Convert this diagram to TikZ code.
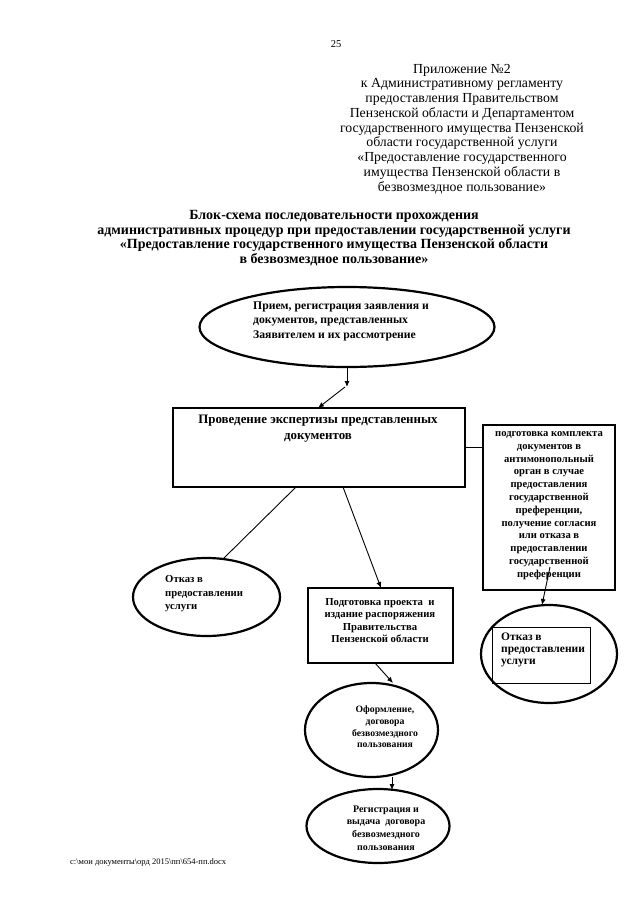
\documentclass[tikz,border=0pt]{standalone}
\usepackage{fontspec}
\setmainfont{Liberation Serif}
\usetikzlibrary{shapes.geometric,arrows.meta}
\begin{document}
\begin{tikzpicture}[x=1pt,y=-1pt,
  thickbox/.style={draw,line width=2.2pt,rectangle,inner sep=0pt},
  thickell/.style={draw,line width=2.2pt,ellipse,inner sep=0pt},
  txt/.style={inner sep=0pt,font=\bfseries\fontsize{10}{12.5}\selectfont},
  conn/.style={line width=0.9pt},
  arr/.style={line width=0.9pt,-{Latex[length=6pt,width=5pt]}}]
\useasboundingbox (0,0) rectangle (640,905);
\fill[white] (0,0) rectangle (640,905);
% header
\node[inner sep=0pt,font=\fontsize{10.5}{12}\selectfont] (pg) at (336,44) {25};
\node[inner sep=0pt,align=center,font=\fontsize{13.8}{14.75}\selectfont] (hdr) at (462,129)
 {Приложение №2\\к Административному регламенту\\предоставления Правительством\\Пензенской области и Департаментом\\государственного имущества Пензенской\\области государственной услуги\\«Предоставление государственного\\имущества Пензенской области в\\безвозмездное пользование»};
\node[inner sep=0pt,align=center,font=\bfseries\fontsize{14}{14.7}\selectfont] (ttl) at (334,238)
 {Блок-схема последовательности прохождения\\административных процедур при предоставлении государственной услуги\\«Предоставление государственного имущества Пензенской области\\в безвозмездное пользование»};
% ellipse 1
\node[thickell,minimum width=295pt,minimum height=80pt] (e1) at (347,327) {};
\node[txt,anchor=west,align=left,font=\bfseries\fontsize{11.7}{14.5}\selectfont] (e1t) at (253,321)
 {Прием, регистрация заявления и\\документов, представленных\\Заявителем и их рассмотрение};
\coordinate (bend) at (347,387);
% box 2
\node[thickbox,minimum width=292pt,minimum height=79pt] (b2) at (319,447.5) {};
\node[txt,align=center,font=\bfseries\fontsize{12.9}{16}\selectfont] (b2t) at (318,429)
 {Проведение экспертизы представленных\\документов};
% right box
\node[thickbox,minimum width=132pt,minimum height=165pt] (rb) at (549,507.5) {};
\node[txt,align=center,font=\bfseries\fontsize{10.6}{12.8}\selectfont] (rbt) at (549,505.5)
 {подготовка комплекта\\документов в\\антимонопольный\\орган в случае\\предоставления\\государственной\\преференции,\\получение согласия\\или отказа в\\предоставлении\\государственной\\преференции};
% left refusal ellipse
\node[thickell,minimum width=147pt,minimum height=78pt] (e2) at (206.5,597) {};
\node[txt,anchor=west,align=left,font=\bfseries\fontsize{10.7}{13.5}\selectfont] (e2t) at (165,594)
 {Отказ в\\предоставлении\\услуги};
% box 3
\node[thickbox,minimum width=145pt,minimum height=75pt] (b3) at (380.5,625.5) {};
\node[txt,align=center,font=\bfseries\fontsize{10.7}{12.4}\selectfont] (b3t) at (380,620.5)
 {Подготовка проекта\ \ и\\издание распоряжения\\Правительства\\Пензенской области};
% right refusal circle
\node[draw,line width=2.2pt,ellipse,inner sep=0pt,minimum width=136pt,minimum height=98pt] (e3) at (549,654) {};
\node[draw,line width=0.8pt,rectangle,inner sep=0pt,minimum width=98pt,minimum height=56pt] (r3) at (541,655) {};
\node[txt,anchor=west,align=left,font=\bfseries\fontsize{11.5}{12}\selectfont] (e3t) at (501,650)
 {Отказ в\\предоставлении\\услуги};
% ellipse 4
\node[thickell,minimum width=133pt,minimum height=94pt] (e4) at (371.5,730) {};
\node[txt,align=center,font=\bfseries\fontsize{9.7}{11.7}\selectfont] (e4t) at (385,727)
 {Оформление,\\договора\\безвозмездного\\пользования};
% ellipse 5
\node[thickell,minimum width=143pt,minimum height=74pt] (e5) at (378,826) {};
\node[txt,align=center,font=\bfseries\fontsize{10}{12.8}\selectfont] (e5t) at (386,828)
 {Регистрация и\\выдача\ \ договора\\безвозмездного\\пользования};
% footer
\node[inner sep=0pt,anchor=west,font=\fontsize{8.5}{9}\selectfont] (ftr) at (70,862) {c:\textbackslash мои документы\textbackslash орд 2015\textbackslash пп\textbackslash 654-пп.docx};
% connectors
\coordinate (e1b) at (347,367);
\coordinate (b2top) at (318,408);
\draw[arr] (e1b) -- (bend);
\draw[arr] ([xshift=-2pt]bend) -- (b2top);
\coordinate (b2r) at (465,447);
\coordinate (rbl) at (483,447);
\draw[conn] (b2r) -- (rbl);
\coordinate (b2bl) at (296,487);
\coordinate (e2top) at (224,558);
\draw[conn] (b2bl) -- (e2top);
\coordinate (b2br) at (343,487);
\coordinate (b3top) at (381,588);
\draw[arr] (b2br) -- (b3top);
\coordinate (rbin) at (550,567);
\coordinate (e3top) at (542,605);
\draw[arr] (rbin) -- (e3top);
\coordinate (b3b) at (375,663);
\coordinate (e4top) at (393,683);
\draw[arr] (b3b) -- (e4top);
\coordinate (e4b) at (392,777);
\coordinate (e5top) at (392,790);
\draw[arr] (e4b) -- (e5top);
\end{tikzpicture}
\end{document}
